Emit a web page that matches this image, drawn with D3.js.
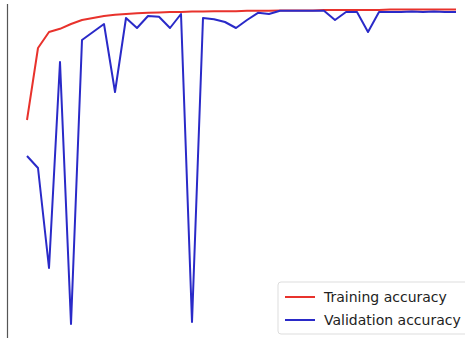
<!DOCTYPE html>
<html>
<head>
<meta charset="utf-8">
<script src="https://cdn.jsdelivr.net/npm/d3@7"></script>
<style>
  body { margin: 0; background: #fff; }
  svg { display: block; }
</style>
</head>
<body>
<svg id="chart" width="465" height="338"></svg>
<script>
// accuracy per epoch
const epochs = d3.range(1, 41);
const trainAcc = [0.72, 0.90, 0.94, 0.948, 0.96, 0.97, 0.975, 0.98, 0.983, 0.985,
    0.987, 0.988, 0.989, 0.99, 0.99, 0.991, 0.991, 0.992, 0.992, 0.992,
    0.993, 0.993, 0.993, 0.994, 0.994, 0.994, 0.994, 0.995, 0.995, 0.995,
    0.995, 0.995, 0.995, 0.996, 0.996, 0.996, 0.996, 0.996, 0.996, 0.996];
const valAcc = [0.63, 0.60, 0.35, 0.865, 0.21, 0.92, 0.94, 0.96, 0.79, 0.975,
    0.95, 0.98, 0.978, 0.95, 0.985, 0.215, 0.975, 0.972, 0.965, 0.95,
    0.97, 0.988, 0.985, 0.993, 0.993, 0.993, 0.993, 0.993, 0.97, 0.99,
    0.99, 0.94, 0.99, 0.99, 0.99, 0.991, 0.99, 0.991, 0.99, 0.99];
const labels = ["Training accuracy", "Validation accuracy"];
const colors = ["#e8322c", "#2a2ac8"];

const svg = d3.select("#chart");

const x = d3.scaleLinear().domain([1, 40]).range([27, 456]);
const y = d3.scaleLinear().domain([0.2, 1.0]).range([328, 8]);

// left spine
svg.append("line")
    .attr("x1", 7.5).attr("x2", 7.5)
    .attr("y1", 4).attr("y2", 338)
    .attr("stroke", "#555")
    .attr("stroke-width", 1.2);

const line = d3.line()
    .x((d, i) => x(epochs[i]))
    .y(d => y(d));

[trainAcc, valAcc].forEach((s, k) => {
    svg.append("path")
        .datum(s)
        .attr("fill", "none")
        .attr("stroke", colors[k])
        .attr("stroke-width", 2)
        .attr("stroke-linejoin", "round")
        .attr("d", line);
});

// legend
const lg = svg.append("g").attr("transform", "translate(278,282)");
lg.append("rect")
    .attr("width", 194).attr("height", 52)
    .attr("rx", 3)
    .attr("fill", "#fff")
    .attr("stroke", "#ddd");

labels.forEach((t, i) => {
    const yy = 15 + i * 23;
    lg.append("line")
        .attr("x1", 7).attr("x2", 37)
        .attr("y1", yy).attr("y2", yy)
        .attr("stroke", colors[i])
        .attr("stroke-width", 2);
    lg.append("text")
        .attr("x", 46).attr("y", yy + 5)
        .attr("font-family", "DejaVu Sans, sans-serif")
        .attr("font-size", 14)
        .attr("fill", "#222")
        .text(t);
});
</script>
</body>
</html>
